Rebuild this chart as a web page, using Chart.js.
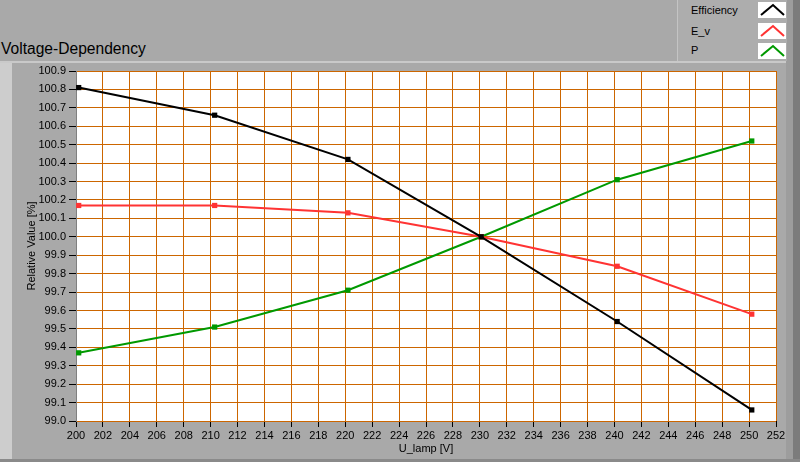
<!DOCTYPE html>
<html>
<head>
<meta charset="utf-8">
<script src="https://cdn.jsdelivr.net/npm/chart.js@4"></script>
<style>
  body { margin: 0; background: #a9a9a9; }
  #wrap { position: relative; width: 800px; height: 462px; overflow: hidden; background: #a9a9a9; font-family: "Liberation Sans", Arial, sans-serif; }
  .blk { position: absolute; }
  #title { position: absolute; left: 1px; top: 40px; font-size: 15.6px; color: #000; }
  #legend { position: absolute; left: 677px; top: 0; width: 109px; height: 61px; background: #adadad; border-left: 1px solid #c4c4c4; }
  .row { position: absolute; left: 13px; font-size: 11px; color: #000; }
  .ico { position: absolute; left: 80px; width: 28px; height: 16px; background: #fff; }
  canvas { position: absolute; left: 0; top: 0; }
</style>
</head>
<body>
<div id="wrap">
  <div class="blk" style="left:0;top:61px;width:786px;height:2px;background:#c9c9c9"></div>
  <div class="blk" style="left:0;top:63px;width:12px;height:396px;background:#cdcdcd"></div>
  <div class="blk" style="left:786px;top:0;width:7px;height:462px;background:#9d9d9d"></div>
  <div class="blk" style="left:793px;top:0;width:7px;height:462px;background:#7c7c7c"></div>
  <div class="blk" style="left:0;top:459px;width:800px;height:3px;background:#8a8a8a"></div>
  <div id="title">Voltage-Dependency</div>
  <div id="legend">
    <div class="row" style="top:4px">Efficiency</div>
    <div class="row" style="top:25px">E_v</div>
    <div class="row" style="top:44px">P</div>
    <svg class="ico" style="top:2px"><polyline points="3,13 15,3 26,13" fill="none" stroke="#000" stroke-width="2"/></svg>
    <svg class="ico" style="top:23px"><polyline points="3,13 15,3 26,13" fill="none" stroke="#ff3333" stroke-width="2"/></svg>
    <svg class="ico" style="top:43px"><polyline points="3,13 15,3 26,13" fill="none" stroke="#009900" stroke-width="2"/></svg>
  </div>
  <canvas id="chart" width="800" height="462"></canvas>
</div>
<script>
// values
const voltage = [200.2, 210.3, 220.2, 230.1, 240.2, 250.2];
const efficiency = [100.81, 100.66, 100.42, 100.0, 99.54, 99.06];
const eV = [100.17, 100.17, 100.13, 100.0, 99.84, 99.58];
const power = [99.37, 99.51, 99.71, 100.0, 100.31, 100.52];

const seriesNames = ["Efficiency", "E_v", "P"];
const seriesColors = ["#000000", "#ff3333", "#009900"];

const toPoints = (vals) => vals.map((v, i) => ({ x: voltage[i], y: v }));

const FONT = { family: "Liberation Sans", size: 11 };

// white plot background
const plotBg = {
  id: "plotBg",
  beforeDraw(chart) {
    const { ctx, chartArea: a } = chart;
    ctx.save();
    ctx.fillStyle = "#ffffff";
    ctx.fillRect(a.left, a.top, a.right - a.left, a.bottom - a.top);
    ctx.restore();
  },
};

new Chart(document.getElementById("chart"), {
  type: "line",
  data: {
    datasets: [efficiency, eV, power].map((vals, i) => ({
      label: seriesNames[i],
      data: toPoints(vals),
      borderColor: seriesColors[i],
      backgroundColor: seriesColors[i],
      borderWidth: 2,
      pointStyle: "rect",
      pointRadius: 3.7,
      pointBorderWidth: 0,
      tension: 0,
    })),
  },
  options: {
    responsive: false,
    animation: false,
    devicePixelRatio: 1,
    layout: { padding: { left: 0, top: 71, right: 24, bottom: 0 } },
    plugins: { legend: { display: false }, tooltip: { enabled: false } },
    scales: {
      x: {
        type: "linear",
        min: 200,
        max: 252,
        afterFit: (s) => { s.height = 41; },
        ticks: { stepSize: 2, color: "#000", font: FONT, padding: 2, maxRotation: 0 },
        grid: { color: "#cc6600", tickColor: "#000", tickLength: 6 },
        border: { display: false },
        title: { display: true, text: "U_lamp [V]", color: "#000", font: FONT, padding: { top: 0, bottom: 6 } },
      },
      y: {
        min: 99,
        max: 100.9,
        afterFit: (s) => { s.width = 76; },
        ticks: { stepSize: 0.1, color: "#000", font: FONT, padding: 3, callback: (v) => v.toFixed(1) },
        grid: { color: "#cc6600", tickColor: "#000", tickLength: 7 },
        border: { color: "#808080" },
        title: { display: true, text: "Relative Value [%]", color: "#000", font: FONT, padding: { top: 25, bottom: 0 } },
      },
    },
  },
  plugins: [plotBg],
});
</script>
</body>
</html>
